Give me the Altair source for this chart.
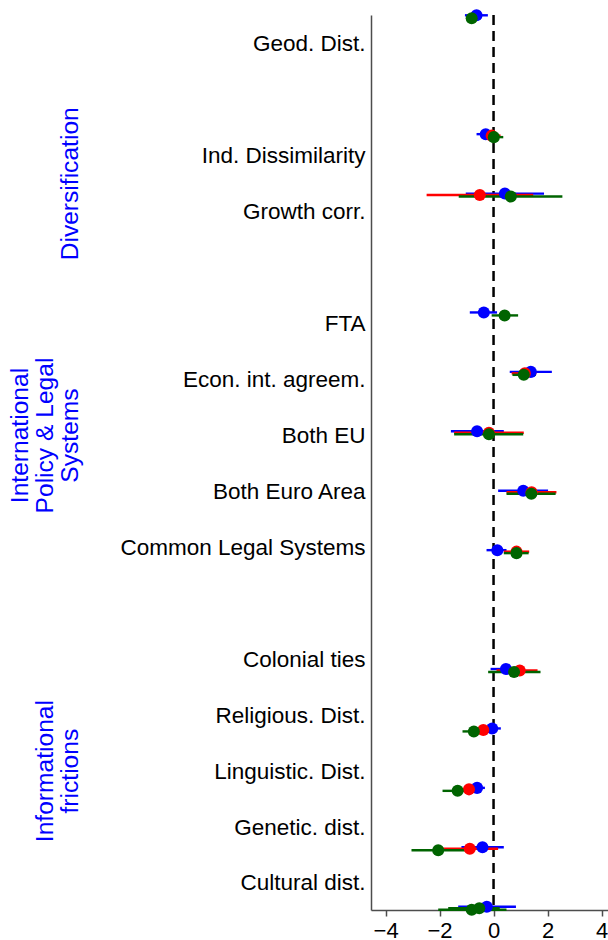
import json

import altair as alt
import pandas as pd

# Regressors, top to bottom, and their slot on the category axis (gaps split the groups)
rows = [
    "Geod. Dist.", "Ind. Dissimilarity", "Growth corr.",
    "FTA", "Econ. int. agreem.", "Both EU", "Both Euro Area", "Common Legal Systems",
    "Colonial ties", "Religious. Dist.", "Linguistic. Dist.", "Genetic. dist.", "Cultural dist.",
]
row_pos = [0, 2, 3, 5, 6, 7, 8, 9, 11, 12, 13, 14, 15]

# Group headings and the slot each is centred on
groups = ["Diversification", "International\nPolicy & Legal\nSystems", "Informational\nfrictions"]
group_pos = [2.5, 7, 13]

# Point estimates and confidence bounds per specification (None = not estimated)
blue_b = [-0.63, -0.29, 0.42, -0.36, 1.38, -0.61, 1.10, 0.14, 0.46, -0.05, -0.61, -0.41, -0.25]
blue_lo = [-1.06, -0.63, -1.03, -0.88, 0.60, -1.58, 0.17, -0.26, -0.11, -0.32, -0.88, -1.19, -1.31]
blue_hi = [-0.21, 0.05, 1.87, 0.13, 2.16, 0.38, 2.02, 0.48, 0.90, 0.27, -0.32, 0.38, 0.83]

red_b = [None, -0.07, -0.51, None, 1.16, -0.17, 1.41, 0.85, 0.97, -0.38, -0.91, -0.88, None]
red_lo = [None, -0.36, -2.48, None, 0.67, -1.46, 0.48, 0.38, 0.11, -0.69, -1.25, -1.87, None]
red_hi = [None, 0.26, 1.47, None, 1.59, 1.12, 2.33, 1.32, 1.63, 0.02, -0.58, 0.17, None]

green_b = [-0.81, 0.01, 0.64, 0.41, 1.12, -0.17, 1.40, 0.85, 0.76, -0.73, -1.33, -2.05, -0.81]
green_lo = [-1.00, -0.20, -1.29, -0.07, 0.70, -1.46, 0.48, 0.38, -0.20, -1.15, -1.89, -3.04, -2.05]
green_hi = [-0.62, 0.36, 2.55, 0.91, 1.57, 1.10, 2.30, 1.30, 1.74, -0.24, -0.81, -0.88, 0.48]

# Second estimate reported for the last regressor in the third specification
extra_b = [None] * 12 + [-0.53]
extra_lo = [None] * 12 + [-1.68]
extra_hi = [None] * 12 + [0.23]

series = [
    ("Spec. 1", blue_b, blue_lo, blue_hi, -1),
    ("Spec. 2", red_b, red_lo, red_hi, 0),
    ("Spec. 3", green_b, green_lo, green_hi, 1),
    ("Spec. 3 (alt.)", extra_b, extra_lo, extra_hi, 0),
]
series_colors = ["#0000ff", "#ff0000", "#006400", "#006400"]

records = []
for name, b, lo, hi, k in series:
    for r, p, bv, lv, hv in zip(rows, row_pos, b, lo, hi):
        if bv is None:
            continue
        records.append({"row": r, "pos": p, "series": name, "b": bv, "lo": lv, "hi": hv, "k": k})
est = pd.DataFrame(records)

grp = pd.DataFrame({"group": groups, "gpos": group_pos})
grp["nlines"] = grp["group"].str.count("\n") + 1

FONT = "Liberation Sans"
AXIS_GREY = "#4d4d4d"
GROUP_FONT = 24.6
GROUP_LINE = 24.8

x_scale = alt.Scale(domain=[-4.54, 4.24], nice=False, zero=False)
x_axis = alt.Axis(
    values=[-4, -2, 0, 2, 4], title=None, grid=False,
    domainColor=AXIS_GREY, domainWidth=1.5,
    tickColor=AXIS_GREY, tickWidth=1.5, tickSize=6,
    labelFontSize=22, labelColor="black", labelFont=FONT, labelPadding=4,
    labelFlush=False, labelExpr="replace(datum.label, '-', '\u2212')",
)
y_est = alt.Scale(domain=[-0.03, 15.03], reverse=True, nice=False, zero=False)
y_lab = alt.Scale(domain=[-0.518, 15.483], reverse=True, nice=False, zero=False)
color_scale = alt.Scale(domain=[s[0] for s in series], range=series_colors)

# Row names as labels of the category axis
names_by_slot = [""] * 16
for r, p in zip(rows, row_pos):
    names_by_slot[p] = r
label_expr = "[" + ",".join(json.dumps(n) for n in names_by_slot) + "][datum.value]"

zero_line = alt.Chart(pd.DataFrame({"ref": [0]})).mark_rule(
    strokeDash=[10, 6], strokeWidth=2.5, color="black"
).encode(x=alt.X("ref:Q", scale=x_scale, axis=x_axis))

base = alt.Chart(est).transform_calculate(yy="datum.pos + datum.k * 0.025")

ci = base.mark_rule(strokeWidth=2.4).encode(
    x=alt.X("lo:Q", scale=x_scale, axis=x_axis),
    x2="hi:Q",
    y=alt.Y("yy:Q", scale=y_est, axis=None),
    color=alt.Color("series:N", scale=color_scale, legend=None),
)

dots = base.mark_circle(size=145, opacity=1).encode(
    x=alt.X("b:Q", scale=x_scale, axis=x_axis),
    y=alt.Y("yy:Q", scale=y_est, axis=None),
    color=alt.Color("series:N", scale=color_scale, legend=None),
)

# Multi-line headings stack rightwards from the anchor; keep the last line in one column
group_text = alt.Chart(grp).transform_calculate(
    gx=f"-300 - (datum.nlines - 1) * {GROUP_LINE}"
).mark_text(
    angle=270, align="center", baseline="middle", fontSize=GROUP_FONT, font=FONT,
    color="#0000ff", lineBreak="\n", lineHeight=GROUP_LINE,
).encode(
    x=alt.X("gx:Q", scale=None, axis=None),
    y=alt.Y(
        "gpos:Q", scale=y_lab,
        axis=alt.Axis(
            values=row_pos, labelExpr=label_expr, title=None, ticks=False, grid=False,
            domainColor=AXIS_GREY, domainWidth=1.5,
            labelFontSize=22.5, labelColor="black", labelFont=FONT,
            labelPadding=6, labelLimit=400, labelFlush=False,
        ),
    ),
    text="group:N",
)

chart = (
    alt.layer(group_text, zero_line, ci, dots)
    .resolve_scale(y="independent")
    .properties(
        width=237, height=895,
        padding={"left": 371, "top": 15, "right": 0, "bottom": 30},
        autosize=alt.AutoSizeParams(type="none"),
    )
    .configure_view(stroke=None)
)

chart.save("out.html", embed_options={"renderer": "svg", "actions": False})
